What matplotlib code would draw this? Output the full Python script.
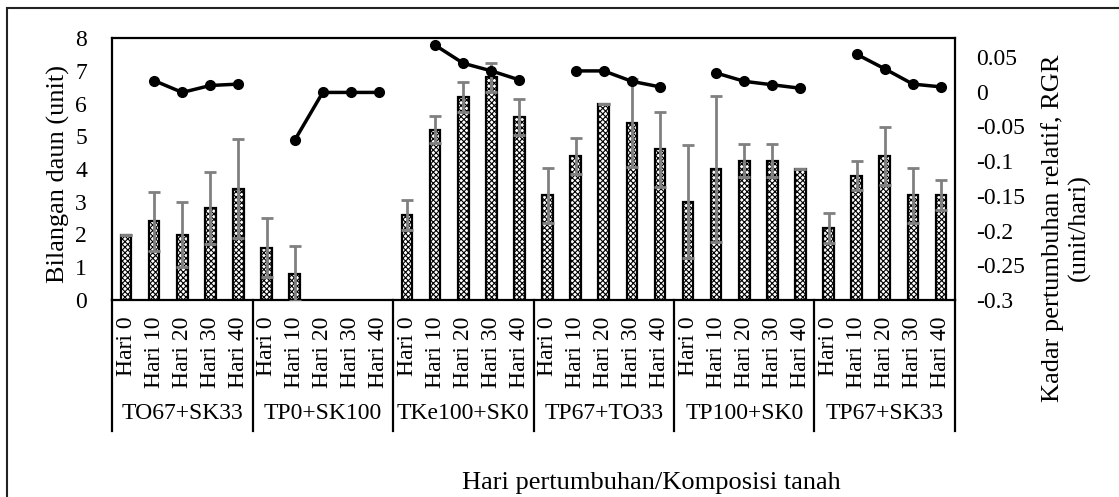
import numpy as np
import matplotlib
matplotlib.use("Agg")
import matplotlib.pyplot as plt
import matplotlib.transforms as mtransforms
from matplotlib.patches import Rectangle

plt.rcParams['font.family'] = ['Liberation Serif', 'DejaVu Serif']
plt.rcParams['hatch.linewidth'] = 0.8

groups = ['TO67+SK33', 'TP0+SK100', 'TKe100+SK0', 'TP67+TO33', 'TP100+SK0', 'TP67+SK33']
days = ['Hari 0', 'Hari 10', 'Hari 20', 'Hari 30', 'Hari 40']

# Bilangan daun (unit), purata per hari
leaf_to67_sk33 = [2.0, 2.4, 2.0, 2.8, 3.4]
leaf_tp0_sk100 = [1.6, 0.8, 0.0, 0.0, 0.0]
leaf_tke100_sk0 = [2.6, 5.2, 6.2, 6.8, 5.6]
leaf_tp67_to33 = [3.2, 4.4, 6.0, 5.4, 4.6]
leaf_tp100_sk0 = [3.0, 4.0, 4.25, 4.25, 4.0]
leaf_tp67_sk33 = [2.2, 3.8, 4.4, 3.2, 3.2]

# ralat piawai
err_to67_sk33 = [0.0, 0.89, 1.0, 1.1, 1.52]
err_tp0_sk100 = [0.89, 0.84, 0.0, 0.0, 0.0]
err_tke100_sk0 = [0.46, 0.41, 0.45, 0.44, 0.55]
err_tp67_to33 = [0.84, 0.55, 0.0, 1.35, 1.14]
err_tp100_sk0 = [1.73, 2.24, 0.5, 0.5, 0.0]
err_tp67_sk33 = [0.46, 0.44, 0.89, 0.84, 0.45]

# RGR (unit/hari)
rgr_to67_sk33 = [np.nan, 0.016, -0.001, 0.009, 0.011]
rgr_tp0_sk100 = [np.nan, -0.070, -0.001, -0.001, -0.001]
rgr_tke100_sk0 = [np.nan, 0.067, 0.041, 0.030, 0.017]
rgr_tp67_to33 = [np.nan, 0.030, 0.030, 0.015, 0.007]
rgr_tp100_sk0 = [np.nan, 0.027, 0.015, 0.010, 0.005]
rgr_tp67_sk33 = [np.nan, 0.054, 0.033, 0.011, 0.007]

leaf = [leaf_to67_sk33, leaf_tp0_sk100, leaf_tke100_sk0,
        leaf_tp67_to33, leaf_tp100_sk0, leaf_tp67_sk33]
err = [err_to67_sk33, err_tp0_sk100, err_tke100_sk0,
       err_tp67_to33, err_tp100_sk0, err_tp67_sk33]
rgr = [rgr_to67_sk33, rgr_tp0_sk100, rgr_tke100_sk0,
       rgr_tp67_to33, rgr_tp100_sk0, rgr_tp67_sk33]

W, H = 1119, 497
fig = plt.figure(figsize=(W / 100, H / 100), dpi=100)
ax = fig.add_axes([112 / W, 1 - 300 / H, (955 - 112) / W, (300 - 38) / H])

n = len(days)
x = np.arange(len(groups) * n)
y_leaf = np.concatenate(leaf)
y_err = np.concatenate(err)

shown = y_leaf > 0
ax.bar(x[shown], y_leaf[shown], width=0.38, color='white', edgecolor='black',
       linewidth=1.6, hatch='xxxxxx', zorder=2)
ax.errorbar(x[shown], y_leaf[shown], yerr=y_err[shown], fmt='none',
            ecolor='#808080', elinewidth=2, capsize=4.5, capthick=2, zorder=3)

ax.set_xlim(-0.5, len(x) - 0.5)
ax.set_ylim(0, 8)
ax.set_yticks(range(0, 9))
ax.set_xticks(x)
ax.set_xticklabels(days * len(groups), rotation=90, fontsize=17)
ax.tick_params(axis='x', length=0, pad=12)
ax.tick_params(axis='y', length=0, pad=18, labelsize=17)
for s in ax.spines.values():
    s.set_linewidth(1.6)

ax2 = ax.twinx()
for g in range(len(groups)):
    ax2.plot(x[g * n:(g + 1) * n], rgr[g], color='black', lw=2.5,
             marker='o', ms=7, zorder=4)
ax2.set_ylim(-0.3, 0.0774)
ax2.set_yticks([-0.3, -0.25, -0.2, -0.15, -0.1, -0.05, 0, 0.05])
ax2.set_yticklabels(['-0.3', '-0.25', '-0.2', '-0.15', '-0.1', '-0.05', '0', '0.05'])
ax2.tick_params(axis='y', length=0, pad=15, labelsize=17)
for s in ax2.spines.values():
    s.set_visible(False)

# multi-level category axis
trans = mtransforms.blended_transform_factory(ax.transData, ax.transAxes)
for b in np.arange(0, len(groups) + 1) * n - 0.5:
    ax.plot([b, b], [0, -0.5], color='black', lw=1.6, transform=trans,
            clip_on=False)
for g, name in enumerate(groups):
    ax.text(g * n + (n - 1) / 2, -0.435, name, transform=trans,
            ha='center', va='center', fontsize=17)

fig.text(58 / W, 1 - 174 / H, 'Bilangan daun (unit)', rotation=90,
         ha='center', va='center', fontsize=19)
fig.text(1066 / W, 1 - 228 / H, 'Kadar pertumbuhan relatif, RGR\n(unit/hari)',
         rotation=90, ha='center', va='center', fontsize=19,
         multialignment='center', linespacing=1.25)
fig.text(651 / W, 1 - 483 / H, 'Hari pertumbuhan/Komposisi tanah',
         ha='center', va='center', fontsize=19)

fig.patches.append(Rectangle((7 / W, -0.1), 1.2, 1 - 8 / H + 0.1,
                             transform=fig.transFigure, fill=False,
                             edgecolor='#222222', lw=1.5))

fig.savefig('out.png', dpi=100)
